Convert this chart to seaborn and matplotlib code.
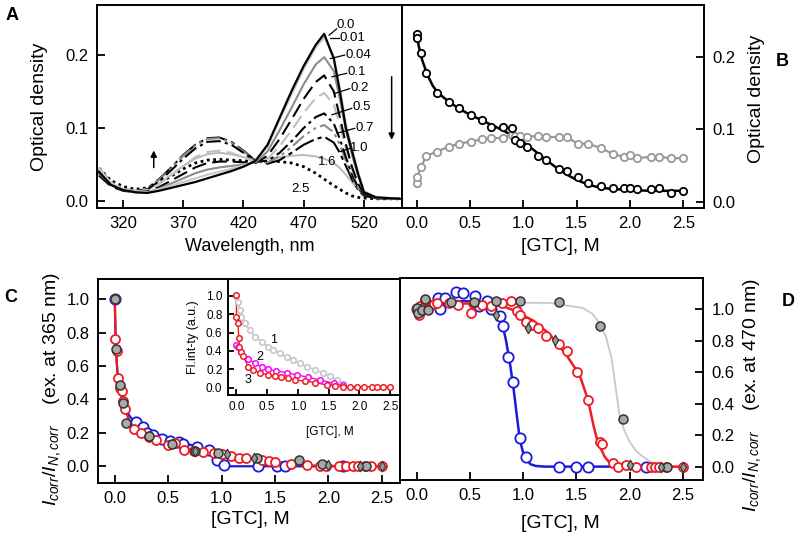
import matplotlib
matplotlib.use("Agg")
import matplotlib.pyplot as plt
import numpy as np
import pandas as pd
import seaborn as sns

sns.set_theme(style="white")
plt.rcParams['font.family'] = ['Liberation Sans', 'DejaVu Sans']
plt.rcParams['mathtext.fontset'] = 'custom'
plt.rcParams['mathtext.rm'] = 'Liberation Sans'
plt.rcParams['mathtext.it'] = 'Liberation Sans:italic'
for k in ['text.color', 'axes.labelcolor', 'xtick.color', 'ytick.color', 'axes.edgecolor']:
    plt.rcParams[k] = 'black'

# ---------------- Panel A: absorption spectra ----------------
wavelength = [300, 310, 320, 330, 340, 350, 360, 370, 380, 390, 400, 410, 420, 430, 440,
              450, 460, 470, 480, 487, 495, 500, 505, 510, 515, 520, 530, 540, 550]
od_0_0 = [0.040, 0.022, 0.015, 0.012, 0.011, 0.014, 0.018, 0.022, 0.026, 0.031, 0.036, 0.041, 0.047, 0.055, 0.077,
          0.114, 0.151, 0.185, 0.214, 0.229, 0.195, 0.150, 0.100, 0.069, 0.038, 0.012, 0.005, 0.004, 0.003]
od_0_01 = [0.045, 0.025, 0.016, 0.013, 0.012, 0.016, 0.021, 0.026, 0.031, 0.036, 0.040, 0.044, 0.049, 0.055, 0.075,
           0.111, 0.146, 0.181, 0.210, 0.224, 0.198, 0.155, 0.106, 0.072, 0.041, 0.014, 0.005, 0.004, 0.003]
od_0_04 = [0.038, 0.022, 0.015, 0.012, 0.012, 0.017, 0.024, 0.031, 0.038, 0.043, 0.046, 0.048, 0.050, 0.053, 0.068,
           0.097, 0.128, 0.160, 0.187, 0.197, 0.178, 0.140, 0.097, 0.064, 0.035, 0.012, 0.005, 0.004, 0.003]
od_0_1 = [0.035, 0.020, 0.014, 0.012, 0.013, 0.019, 0.028, 0.037, 0.046, 0.052, 0.054, 0.054, 0.053, 0.052, 0.062,
          0.085, 0.112, 0.140, 0.163, 0.172, 0.150, 0.115, 0.078, 0.047, 0.024, 0.009, 0.004, 0.003, 0.003]
od_0_2 = [0.040, 0.024, 0.016, 0.013, 0.015, 0.023, 0.035, 0.048, 0.060, 0.067, 0.069, 0.066, 0.060, 0.053, 0.058,
          0.075, 0.097, 0.121, 0.141, 0.148, 0.132, 0.104, 0.072, 0.044, 0.022, 0.009, 0.004, 0.003, 0.003]
od_0_5 = [0.038, 0.022, 0.015, 0.013, 0.016, 0.027, 0.042, 0.058, 0.072, 0.081, 0.082, 0.077, 0.066, 0.054, 0.055,
          0.066, 0.082, 0.100, 0.115, 0.120, 0.106, 0.085, 0.060, 0.037, 0.019, 0.008, 0.004, 0.003, 0.003]
od_0_7 = [0.045, 0.026, 0.017, 0.014, 0.017, 0.029, 0.045, 0.062, 0.076, 0.085, 0.086, 0.080, 0.068, 0.054, 0.053,
          0.061, 0.074, 0.089, 0.100, 0.104, 0.094, 0.077, 0.055, 0.034, 0.018, 0.008, 0.004, 0.003, 0.003]
od_1_0 = [0.040, 0.023, 0.016, 0.013, 0.017, 0.030, 0.046, 0.063, 0.077, 0.086, 0.087, 0.081, 0.069, 0.055, 0.051,
          0.056, 0.066, 0.077, 0.085, 0.088, 0.080, 0.066, 0.048, 0.030, 0.016, 0.007, 0.004, 0.003, 0.003]
od_1_6 = [0.042, 0.024, 0.016, 0.013, 0.015, 0.024, 0.036, 0.048, 0.058, 0.064, 0.066, 0.064, 0.060, 0.057, 0.058,
          0.060, 0.062, 0.063, 0.061, 0.058, 0.052, 0.045, 0.036, 0.026, 0.016, 0.009, 0.004, 0.003, 0.003]
od_2_5 = [0.045, 0.028, 0.020, 0.016, 0.018, 0.025, 0.034, 0.044, 0.052, 0.056, 0.057, 0.056, 0.055, 0.054, 0.054,
          0.054, 0.052, 0.047, 0.038, 0.030, 0.021, 0.016, 0.011, 0.007, 0.005, 0.004, 0.003, 0.003, 0.003]
spectra_labels = ["0.0", "0.01", "0.04", "0.1", "0.2", "0.5", "0.7", "1.0", "1.6", "2.5"]

# ---------------- Panel B: optical density vs GTC ----------------
gtc_b = [0.0, 0.005, 0.04, 0.09, 0.19, 0.30, 0.40, 0.51, 0.61, 0.70, 0.81, 0.89, 0.92, 0.97, 1.03,
         1.14, 1.21, 1.33, 1.41, 1.51, 1.61, 1.73, 1.84, 1.94, 2.00, 2.07, 2.20, 2.27, 2.38, 2.50]
od_490 = [0.231, 0.226, 0.205, 0.178, 0.150, 0.138, 0.129, 0.120, 0.112, 0.103, 0.103, 0.101, 0.085, 0.081, 0.076,
          0.063, 0.057, 0.045, 0.043, 0.034, 0.026, 0.021, 0.0185, 0.019, 0.0185, 0.0175, 0.017, 0.0185, 0.0125, 0.015]
od_390 = [0.026, 0.0345, 0.048, 0.063, 0.069, 0.076, 0.080, 0.083, 0.086, 0.0875, 0.088, 0.092, 0.091, 0.0906, 0.0897,
          0.0906, 0.0897, 0.0888, 0.089, 0.080, 0.080, 0.0736, 0.0658, 0.062, 0.0644, 0.060, 0.062, 0.062, 0.060, 0.060]
fit_b_x = [0, 0.02, 0.05, 0.1, 0.15, 0.2, 0.3, 0.4, 0.5, 0.6, 0.7, 0.8, 0.9, 1.0, 1.1, 1.2, 1.3, 1.4,
           1.5, 1.6, 1.7, 1.8, 2.0, 2.2, 2.5]
fit_b_y = [0.229, 0.214, 0.196, 0.175, 0.160, 0.150, 0.138, 0.128, 0.120, 0.113, 0.106, 0.099, 0.091, 0.082,
           0.071, 0.059, 0.048, 0.038, 0.030, 0.024, 0.020, 0.018, 0.016, 0.015, 0.015]

# ---------------- Panel C: fluorescence, ex. 365 nm ----------------
c_red_x = [0.0, 0.003, 0.02, 0.03, 0.05, 0.07, 0.08, 0.10, 0.18, 0.25, 0.32, 0.39, 0.50, 0.56, 0.65, 0.74, 0.83,
           0.93, 1.00, 1.09, 1.16, 1.23, 1.38, 1.44, 1.50, 1.65, 1.80, 1.92, 1.98, 2.10, 2.16, 2.23, 2.28, 2.34, 2.40, 2.50]
c_red_y = [1.0, 0.76, 0.69, 0.53, 0.47, 0.45, 0.39, 0.34, 0.225, 0.20, 0.175, 0.16, 0.13, 0.14, 0.10, 0.09, 0.085,
           0.08, 0.072, 0.06, 0.052, 0.05, 0.04, 0.032, 0.025, 0.012, 0.006, 0.0, 0.0, 0.0, 0.0, 0.0, 0.0, 0.0, 0.0, 0.0]
c_red_fit_x = [0.0, 0.01, 0.03, 0.06, 0.1, 0.15, 0.2, 0.3, 0.5, 0.7, 0.9, 1.1, 1.3, 1.5, 1.7, 1.9, 2.5]
c_red_fit_y = [1.0, 0.70, 0.52, 0.43, 0.33, 0.25, 0.21, 0.18, 0.14, 0.105, 0.085, 0.062, 0.045, 0.028, 0.012, 0.003, 0.0]
c_blue_x = [0.0, 0.20, 0.26, 0.30, 0.36, 0.44, 0.52, 0.60, 0.64, 0.77, 0.88, 0.96, 1.02, 1.34, 1.52, 1.59, 2.14]
c_blue_y = [1.0, 0.266, 0.236, 0.20, 0.19, 0.166, 0.15, 0.146, 0.136, 0.116, 0.096, 0.04, 0.008, 0.0, 0.0, 0.0, 0.0]
c_blue_fit_x = [0.0, 0.01, 0.03, 0.06, 0.1, 0.15, 0.2, 0.3, 0.4, 0.5, 0.6, 0.7, 0.8, 0.9, 0.95, 1.0, 1.05, 1.2, 2.5]
c_blue_fit_y = [1.0, 0.70, 0.52, 0.43, 0.34, 0.29, 0.26, 0.21, 0.18, 0.16, 0.145, 0.13, 0.11, 0.08, 0.045, 0.01,
                0.0, 0.0, 0.0]
gtc_gray = [0.0, 0.016, 0.05, 0.075, 0.105, 0.32, 0.535, 0.75, 0.97, 1.335, 1.72, 1.94, 2.35]
c_gray_y = [1.0, 0.70, 0.486, 0.38, 0.26, 0.18, 0.136, 0.092, 0.08, 0.052, 0.04, 0.016, 0.0]
gtc_diam = [0.75, 1.05, 1.30, 2.0, 2.3, 2.5]
c_diam_y = [0.09, 0.076, 0.052, 0.006, 0.0, 0.0]

# inset of C
ins_1_x = [0.0, 0.027, 0.054, 0.08, 0.136, 0.217, 0.30, 0.41, 0.516, 0.60, 0.71, 0.816, 0.92, 1.03, 1.14,
           1.28, 1.41, 1.52, 1.63, 1.74]
ins_1_y = [1.0, 0.938, 0.847, 0.774, 0.70, 0.63, 0.556, 0.502, 0.447, 0.411, 0.375, 0.331, 0.302, 0.266, 0.229,
           0.193, 0.157, 0.128, 0.084, 0.04]
ins_2_x = [0.0, 0.027, 0.08, 0.19, 0.30, 0.41, 0.516, 0.65, 0.816, 0.98, 1.17, 1.36, 1.58, 1.73]
ins_2_y = [0.466, 0.447, 0.39, 0.31, 0.266, 0.229, 0.20, 0.182, 0.164, 0.139, 0.113, 0.084, 0.048, 0.03]
ins_3_x = [0.0, 0.0, 0.027, 0.037, 0.05, 0.08, 0.11, 0.19, 0.27, 0.38, 0.516, 0.62, 0.73, 0.84, 0.95, 1.11,
           1.28, 1.47, 1.60, 1.74, 1.85, 1.96, 2.07, 2.20, 2.28, 2.39, 2.50]
ins_3_y = [1.01, 0.768, 0.70, 0.54, 0.447, 0.39, 0.34, 0.23, 0.193, 0.164, 0.139, 0.128, 0.12, 0.102, 0.084, 0.073,
           0.055, 0.03, 0.019, 0.011, 0.01, 0.01, 0.01, 0.01, 0.01, 0.01, 0.01]

# ---------------- Panel D: fluorescence, ex. 470 nm ----------------
d_blue_x = [0.0, 0.20, 0.22, 0.27, 0.37, 0.44, 0.55, 0.59, 0.66, 0.70, 0.78, 0.81, 0.86, 0.905, 0.968, 1.025,
            1.34, 1.50, 1.61, 2.155]
d_blue_y = [1.0, 1.07, 1.0, 1.07, 1.11, 1.10, 1.08, 1.02, 1.05, 1.0, 0.954, 0.894, 0.695, 0.534, 0.18, 0.06,
            0.0, 0.0, 0.0, 0.0]
d_blue_fit_x = [0, 0.1, 0.2, 0.3, 0.4, 0.5, 0.6, 0.7, 0.75, 0.8, 0.84, 0.88, 0.91, 0.94, 0.97, 1.0, 1.03,
                1.07, 1.12, 1.2, 1.5, 2.2]
d_blue_fit_y = [1.0, 1.03, 1.04, 1.05, 1.05, 1.05, 1.04, 1.01, 0.98, 0.92, 0.80, 0.64, 0.50, 0.33, 0.17, 0.09,
                0.045, 0.015, 0.004, 0.0, 0.0, 0.0]
d_red_x = [0.0, 0.02, 0.03, 0.05, 0.08, 0.16, 0.19, 0.30, 0.39, 0.515, 0.53, 0.61, 0.70, 0.80, 0.89, 0.94, 0.97,
           1.03, 1.08, 1.14, 1.22, 1.34, 1.41, 1.51, 1.61, 1.72, 1.74, 1.84, 1.89, 1.97, 2.06, 2.20, 2.24, 2.28,
           2.34, 2.50]
d_red_y = [1.0, 0.964, 1.017, 1.006, 1.06, 1.03, 1.04, 1.04, 1.028, 0.975, 1.04, 1.028, 1.017, 1.04, 1.05, 0.985,
           0.964, 0.92, 0.90, 0.88, 0.826, 0.78, 0.735, 0.60, 0.42, 0.157, 0.145, 0.025, 0.0, 0.008, 0.0, 0.0, 0.0,
           0.0, 0.0, 0.0]
d_red_fit_x = [0, 0.1, 0.2, 0.4, 0.6, 0.8, 0.9, 1.0, 1.1, 1.25, 1.4, 1.53, 1.61, 1.66, 1.70, 1.765, 1.83, 1.9,
               2.0, 2.5]
d_red_fit_y = [1.0, 1.02, 1.03, 1.035, 1.035, 1.02, 0.995, 0.96, 0.925, 0.84, 0.715, 0.583, 0.424, 0.265, 0.159,
               0.064, 0.011, 0.002, 0.0, 0.0]
d_gray_y = [1.006, 0.975, 0.996, 1.066, 0.992, 1.043, 1.043, 1.049, 1.049, 1.043, 0.894, 0.301, 0.0]
d_gray_fit_x = [0.6, 0.9, 1.25, 1.56, 1.65, 1.72, 1.78, 1.83, 1.875, 1.905, 1.95, 2.0, 2.06, 2.124, 2.2,
                2.25, 2.3, 2.4, 2.5]
d_gray_fit_y = [1.04, 1.04, 1.039, 1.007, 0.97, 0.91, 0.82, 0.69, 0.477, 0.329, 0.23, 0.159, 0.10, 0.064, 0.03,
                0.011, 0.004, 0.0, 0.0]
d_diam_y = [0.964, 0.88, 0.805, 0.01, 0.0, 0.0]

# ======================= drawing =======================
W, H = 798, 540
fig = plt.figure(figsize=(W / 100, H / 100), dpi=100)


def rect(x0, y0, x1, y1):
    return [x0 / W, 1 - y1 / H, (x1 - x0) / W, (y1 - y0) / H]


axA = fig.add_axes(rect(97, 5, 402, 208))
axB = fig.add_axes(rect(402, 5, 704, 208))
axC = fig.add_axes(rect(98, 279, 400, 483))
axD = fig.add_axes(rect(400, 278, 703, 480))

RED = '#ee1c24'
BLUE = '#1a1ad8'
MAG = '#ff00ff'


def style(ax, right=False, size=12, length=6):
    for s in ax.spines.values():
        s.set_visible(True)
        s.set_linewidth(1.4)
        s.set_color('black')
    ax.tick_params(axis='both', direction='in', length=length, width=1.3, labelsize=size, pad=6,
                   bottom=True, top=False, left=not right, right=right,
                   labelleft=not right, labelright=right)
    if right:
        ax.yaxis.set_label_position('right')
    ax.set_facecolor('white')


def line(ax, x, y, color, lw=1.5, ls='-', z=2):
    sns.lineplot(x=x, y=y, ax=ax, color=color, lw=lw, linestyle=ls, estimator=None, sort=False, zorder=z)


def pts(ax, x, y, edge, face='white', s=50, lw=1.3, marker='o', z=3):
    sns.scatterplot(x=x, y=y, ax=ax, marker=marker, s=s, facecolor=face, edgecolor=edge, linewidth=lw, zorder=z)


# ---- A ----
spec_series = [od_0_0, od_0_01, od_0_04, od_0_1, od_0_2, od_0_5, od_0_7, od_1_0, od_1_6, od_2_5]
spec_styles = [('#000000', '-', 1.6), ('#c8c8c8', '-', 1.5), ('#8c8c8c', '-', 1.5),
               ('#000000', (0, (7, 3)), 1.5), ('#c0c0c0', (0, (7, 3)), 1.5),
               ('#000000', (0, (7, 2, 1.5, 2)), 1.5), ('#8c8c8c', (0, (7, 2, 1.5, 2, 1.5, 2)), 1.5),
               ('#000000', (0, (10, 2, 2, 2)), 1.5), ('#b8b8b8', '-', 1.4), ('#000000', (0, (1, 1.3)), 2.0)]
for vals, (c, ls, lw) in reversed(list(zip(spec_series, spec_styles))):
    line(axA, wavelength, vals, c, lw=lw, ls=ls)
style(axA)
axA.set_xlim(298.4, 551.6)
axA.set_ylim(-0.0096, 0.2685)
axA.set_xticks([320, 370, 420, 470, 520])
axA.set_yticks([0.0, 0.1, 0.2])
axA.set_xlabel('Wavelength, nm', fontsize=13)
axA.set_ylabel('Optical density', fontsize=14)
axA.xaxis.set_label_coords(0.502, -0.192)
axA.xaxis.label.set_va('center')
axA.yaxis.set_label_coords(-0.19, 0.50)
axA.yaxis.label.set_va('center')

leaders = [((491, 0.227), (497.5, 0.236), (497.5, 0.241)),
           ((492, 0.223), (499.6, 0.223), (499.8, 0.223)),
           ((492, 0.195), (504.2, 0.200), (504.4, 0.200)),
           ((493.3, 0.170), (505.8, 0.175), (506.0, 0.177)),
           ((496.1, 0.1475), (508.3, 0.154), (508.5, 0.155)),
           ((493.3, 0.118), (510.0, 0.127), (510.2, 0.129)),
           ((497.5, 0.0927), (512.5, 0.0996), (512.7, 0.100)),
           ((500.2, 0.0676), (508.3, 0.072), (508.5, 0.0726))]
for lab, (p0, p1, pt) in zip(spectra_labels[:8], leaders):
    axA.plot([p0[0], p1[0]], [p0[1], p1[1]], color='black', lw=0.9, zorder=4)
    axA.text(pt[0], pt[1], lab, fontsize=9.5, ha='left', va='center', zorder=5)
axA.text(489.4, 0.0534, spectra_labels[8], fontsize=9.5, ha='center', va='center')
axA.text(467, 0.0164, spectra_labels[9], fontsize=9.5, ha='center', va='center')
axA.annotate('', xy=(345.5, 0.073), xytext=(345.5, 0.042),
             arrowprops=dict(arrowstyle='-|>', lw=1.1, color='black', mutation_scale=9))
axA.annotate('', xy=(543, 0.080), xytext=(543, 0.174),
             arrowprops=dict(arrowstyle='-|>', lw=1.1, color='black', mutation_scale=9))

# ---- B ----
line(axB, gtc_b, od_390, '#999999', lw=1.6)
pts(axB, gtc_b, od_390, '#999999', s=28, lw=1.3)
line(axB, fit_b_x, fit_b_y, 'black', lw=1.8)
pts(axB, gtc_b, od_490, 'black', s=28, lw=1.3)
style(axB, right=True)
axB.set_xlim(-0.138, 2.694)
axB.set_ylim(-0.0087, 0.2713)
axB.set_xticks([0.0, 0.5, 1.0, 1.5, 2.0, 2.5])
axB.set_yticks([0.0, 0.1, 0.2])
axB.set_xlabel('[GTC], M', fontsize=14)
axB.set_ylabel('Optical density', fontsize=14)
axB.xaxis.set_label_coords(0.523, -0.192)
axB.xaxis.label.set_va('center')
axB.yaxis.set_label_coords(1.175, 0.54)
axB.yaxis.label.set_va('center')

# ---- C ----
line(axC, c_blue_fit_x, c_blue_fit_y, BLUE, lw=1.6)
pts(axC, c_blue_x, c_blue_y, BLUE, s=55, lw=1.3)
line(axC, c_red_fit_x, c_red_fit_y, RED, lw=1.6)
pts(axC, c_red_x, c_red_y, RED, s=42, lw=1.3)
pts(axC, gtc_gray, c_gray_y, '#333333', face='#a8a8a8', s=42, lw=1.1, z=4)
pts(axC, gtc_diam, c_diam_y, '#333333', face='#999999', s=28, lw=0.9, marker='d', z=5)
style(axC)
axC.set_xlim(-0.157, 2.67)
axC.set_ylim(-0.1, 1.12)
axC.set_xticks([0.0, 0.5, 1.0, 1.5, 2.0, 2.5])
axC.set_yticks([0.0, 0.2, 0.4, 0.6, 0.8, 1.0])
axC.set_xlabel('[GTC], M', fontsize=14)
axC.set_ylabel(r'$I_{corr}/I_{N,corr}$    (ex. at 365 nm)', fontsize=14)
axC.xaxis.set_label_coords(0.503, -0.181)
axC.xaxis.label.set_va('center')
axC.yaxis.set_label_coords(-0.152, 0.461)
axC.yaxis.label.set_va('center')

# ---- D ----
line(axD, d_gray_fit_x, d_gray_fit_y, '#c8c8c8', lw=1.3)
line(axD, d_blue_fit_x, d_blue_fit_y, BLUE, lw=1.8)
pts(axD, d_blue_x, d_blue_y, BLUE, s=55, lw=1.3)
line(axD, d_red_fit_x, d_red_fit_y, RED, lw=1.8)
pts(axD, d_red_x, d_red_y, RED, s=42, lw=1.3)
pts(axD, gtc_gray, d_gray_y, '#333333', face='#a8a8a8', s=42, lw=1.1, z=4)
pts(axD, gtc_diam, d_diam_y, '#333333', face='#999999', s=28, lw=0.9, marker='d', z=5)
style(axD, right=True)
axD.set_xlim(-0.156, 2.69)
axD.set_ylim(-0.085, 1.197)
axD.set_xticks([0.0, 0.5, 1.0, 1.5, 2.0, 2.5])
axD.set_yticks([0.0, 0.2, 0.4, 0.6, 0.8, 1.0])
axD.set_xlabel('[GTC], M', fontsize=14)
axD.set_ylabel(r'$I_{corr}/I_{N,corr}$    (ex. at 470 nm)', fontsize=14)
axD.xaxis.set_label_coords(0.528, -0.213)
axD.xaxis.label.set_va('center')
axD.yaxis.set_label_coords(1.162, 0.42)
axD.yaxis.label.set_va('center')

# ---- inset ----
axI = fig.add_axes(rect(228, 279, 400, 395))
line(axI, ins_1_x, ins_1_y, '#c4c4c4', lw=1.0)
pts(axI, ins_1_x, ins_1_y, '#c4c4c4', s=16, lw=1.1)
line(axI, ins_2_x, ins_2_y, MAG, lw=1.0)
pts(axI, ins_2_x, ins_2_y, MAG, s=16, lw=1.1)
line(axI, ins_3_x, ins_3_y, RED, lw=1.0)
pts(axI, ins_3_x, ins_3_y, RED, s=16, lw=1.1)
style(axI, size=8.5, length=4)
axI.tick_params(pad=4)
axI.set_xlim(-0.137, 2.66)
axI.set_ylim(-0.08, 1.185)
axI.set_xticks([0.0, 0.5, 1.0, 1.5, 2.0, 2.5])
axI.set_yticks([0.0, 0.2, 0.4, 0.6, 0.8, 1.0])
axI.set_xlabel('[GTC], M', fontsize=8.5)
axI.set_ylabel('Fl.int-ty (a.u.)', fontsize=9)
axI.xaxis.set_label_coords(0.593, -0.316)
axI.xaxis.label.set_va('center')
axI.yaxis.set_label_coords(-0.203, 0.5)
axI.yaxis.label.set_va('center')
axI.text(0.60, 0.52, '1', fontsize=9, ha='center', va='center')
axI.text(0.38, 0.33, '2', fontsize=9, ha='center', va='center')
axI.text(0.19, 0.084, '3', fontsize=9, ha='center', va='center')

# panel letters
for lab, x, y in [('A', 12, 15), ('B', 782, 62), ('C', 11, 297), ('D', 788, 302)]:
    fig.text(x / W, 1 - y / H, lab, fontsize=13, fontweight='bold', ha='center', va='center')

fig.savefig('out.png', dpi=100)
